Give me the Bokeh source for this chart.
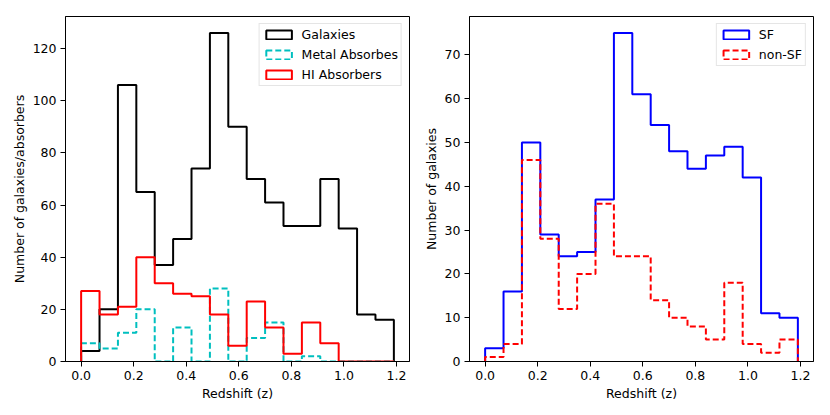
from bokeh.plotting import figure
from bokeh.models import Range1d, FixedTicker, Legend, LegendItem, ColumnDataSource
from bokeh.layouts import row
from bokeh.embed import file_html
from bokeh.resources import INLINE

BIN_EDGES = [0.0, 0.07, 0.14, 0.21, 0.28, 0.35, 0.42, 0.49, 0.56, 0.63,
             0.70, 0.77, 0.84, 0.91, 0.98, 1.05, 1.12, 1.19]

GALAXIES = [4, 20, 106, 65, 37, 47, 74, 126, 90, 70, 61, 52, 52, 70, 51, 18, 16]
METAL = [7, 5, 11, 20, 0, 13, 0, 28, 0, 9, 15, 0, 2, 0, 0, 0, 0]
HI = [27, 18, 21, 40, 30, 26, 25, 18, 6, 23, 13, 3, 15, 7, 0, 0, 0]

SF = [3, 16, 50, 29, 24, 25, 37, 75, 61, 54, 48, 44, 47, 49, 42, 11, 10]
NON_SF = [1, 4, 46, 28, 12, 20, 36, 24, 24, 14, 10, 8, 5, 18, 4, 2, 5]

X_TICKS = [0.0, 0.2, 0.4, 0.6, 0.8, 1.0, 1.2]
X_TICK_LABELS = ["0.0", "0.2", "0.4", "0.6", "0.8", "1.0", "1.2"]
LEFT_Y_TICKS = [0, 20, 40, 60, 80, 100, 120]
RIGHT_Y_TICKS = [0, 10, 20, 30, 40, 50, 60, 70]

FONT = "DejaVu Sans"
NAN = float("nan")


def step_xy(edges, counts):
    xs = [edges[0]]
    ys = [0]
    for i, h in enumerate(counts):
        xs += [edges[i], edges[i + 1]]
        ys += [h, h]
    xs.append(edges[-1])
    ys.append(0)
    return xs, ys


def make_fig(ymax, yticks, ylabel, left_border, right_border):
    p = figure(frame_width=344, frame_height=345, output_backend="svg",
               toolbar_location=None,
               x_range=Range1d(-0.0595, 1.2495), y_range=Range1d(0, ymax),
               min_border_left=left_border, min_border_right=right_border,
               min_border_top=16, min_border_bottom=54)
    p.grid.visible = False
    p.outline_line_color = "black"
    p.outline_line_width = 1
    p.background_fill_color = "white"
    p.border_fill_color = "white"
    p.xaxis.ticker = FixedTicker(ticks=X_TICKS)
    p.xaxis.major_label_overrides = {t: l for t, l in zip(X_TICKS, X_TICK_LABELS)}
    p.yaxis.ticker = FixedTicker(ticks=yticks)
    p.xaxis.axis_label = "Redshift (z)"
    p.yaxis.axis_label = ylabel
    for ax in (p.xaxis, p.yaxis):
        ax.axis_line_color = "black"
        ax.major_tick_line_color = "black"
        ax.minor_tick_line_color = None
        ax.major_tick_out = 5
        ax.major_tick_in = 0
        ax.major_label_text_font = FONT
        ax.major_label_text_font_size = "12.5px"
        ax.major_label_text_color = "black"
        ax.axis_label_text_font = FONT
        ax.axis_label_text_font_size = "12.5px"
        ax.axis_label_text_font_style = "normal"
        ax.axis_label_text_color = "black"
        ax.major_label_standoff = 4
        ax.axis_label_standoff = 3
    return p


def add_hist(p, counts, color, dash):
    xs, ys = step_xy(BIN_EDGES, counts)
    src = ColumnDataSource(dict(x=xs, y=ys))
    p.line("x", "y", source=src, line_color=color, line_width=2, line_dash=dash)
    handle = p.quad(top=[NAN], bottom=[NAN], left=[NAN], right=[NAN],
                    fill_color=None, line_color=color, line_width=2,
                    line_dash=dash)
    return handle


def style_legend(items):
    lg = Legend(items=items, location="top_right")
    lg.margin = 7
    lg.padding = 3
    lg.spacing = 5
    lg.label_height = 14
    lg.glyph_height = 11
    lg.glyph_width = 32
    lg.label_standoff = 7
    lg.label_text_font = FONT
    lg.label_text_font_size = "12.5px"
    lg.label_text_color = "black"
    lg.border_line_color = "#cccccc"
    lg.border_line_width = 1
    lg.background_fill_color = "white"
    lg.background_fill_alpha = 0.8
    return lg


p1 = make_fig(132.3, LEFT_Y_TICKS, "Number of galaxies/absorbers", 65, 6)
h_gal = add_hist(p1, GALAXIES, "black", "solid")
h_met = add_hist(p1, METAL, "#00bfbf", "6 3")
h_hi = add_hist(p1, HI, "#ff0000", "solid")
p1.add_layout(style_legend([
    LegendItem(label="Galaxies", renderers=[h_gal]),
    LegendItem(label="Metal Absorbes", renderers=[h_met]),
    LegendItem(label="HI Absorbers", renderers=[h_hi]),
]))

p2 = make_fig(78.75, RIGHT_Y_TICKS, "Number of galaxies", 54, 17)
h_sf = add_hist(p2, SF, "#0000ff", "solid")
h_nsf = add_hist(p2, NON_SF, "#ff0000", "6 3")
p2.add_layout(style_legend([
    LegendItem(label="SF", renderers=[h_sf]),
    LegendItem(label="non-SF", renderers=[h_nsf]),
]))

layout = row(p1, p2)
open("out.html", "w").write(file_html(layout, INLINE))
